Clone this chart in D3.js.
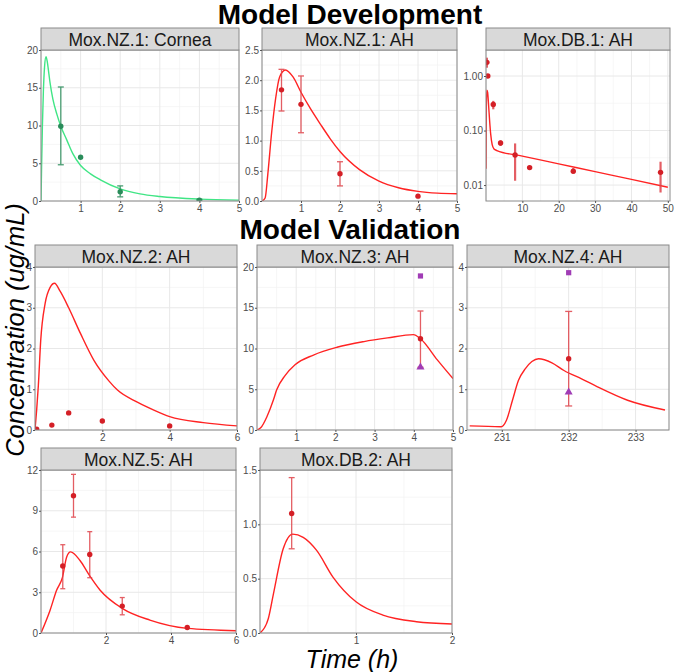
<!DOCTYPE html>
<html>
<head>
<meta charset="utf-8">
<script src="https://cdn.jsdelivr.net/npm/d3@7"></script>
<style>
  body { margin: 0; background: #fff; }
  svg { display: block; }
  text { font-family: "Liberation Sans", Arial, sans-serif; }
</style>
</head>
<body>
<svg id="chart" width="676" height="672"></svg>
<script>
// ---- data ----
const stripTitles = ["Mox.NZ.1: Cornea", "Mox.NZ.1: AH", "Mox.DB.1: AH",
  "Mox.NZ.2: AH", "Mox.NZ.3: AH", "Mox.NZ.4: AH", "Mox.NZ.5: AH", "Mox.DB.2: AH"];

// model curves (time h, conc ug/mL)
const corneaLineT = [0, 0.015, 0.035, 0.06, 0.09, 0.126, 0.16, 0.2, 0.23, 0.3, 0.4, 0.5, 0.65, 0.8, 1.0, 1.25, 1.5, 2.0, 2.5, 3.0, 4.0, 5.0];
const corneaLineC = [0, 4.5, 9.8, 14.5, 17.8, 19.1, 18.4, 16.8, 15.6, 13.5, 11.5, 9.9, 8.1, 6.3, 4.7, 3.6, 2.8, 1.6, 0.95, 0.6, 0.25, 0.12];
const nz1LineT = [0, 0.08, 0.15, 0.25, 0.35, 0.45, 0.6, 0.8, 1.0, 1.25, 1.5, 1.75, 2.0, 2.5, 3.0, 3.5, 4.0, 4.5, 5.0];
const nz1LineC = [0, 0.05, 0.45, 1.15, 1.7, 2.05, 2.17, 2.05, 1.8, 1.52, 1.27, 1.03, 0.82, 0.52, 0.33, 0.22, 0.16, 0.13, 0.12];
const db1LineT = [0, 0.1, 0.25, 0.45, 0.7, 1.0, 1.3, 1.7, 2.2, 3, 10, 20, 30, 40, 50];
const db1LineC = [0.02, 0.3, 0.55, 0.5, 0.3, 0.15, 0.085, 0.055, 0.046, 0.043, 0.034, 0.0245, 0.0176, 0.0127, 0.0091];
const nz2LineT = [0, 0.05, 0.1, 0.17, 0.3, 0.45, 0.58, 0.75, 1.0, 1.35, 1.75, 2.2, 2.45, 2.95, 3.5, 4.0, 5.0, 6.0];
const nz2LineC = [0, 0.5, 1.1, 2.2, 3.1, 3.5, 3.6, 3.4, 3.0, 2.37, 1.71, 1.2, 0.98, 0.72, 0.5, 0.33, 0.18, 0.1];
const nz3LineT = [0, 0.1, 0.25, 0.42, 0.5, 0.72, 0.97, 1.44, 2.04, 2.73, 3.33, 3.99, 4.17, 4.6, 5.0];
const nz3LineC = [0, 0.3, 1.6, 3.7, 4.9, 6.7, 8.0, 9.2, 10.15, 10.85, 11.3, 11.7, 11.2, 8.6, 6.3];
const nz4LineT = [230.52, 230.99, 231.07, 231.16, 231.25, 231.35, 231.45, 231.55, 231.75, 231.93, 232.2, 232.43, 232.88, 233.44];
const nz4LineC = [0.1, 0.08, 0.24, 0.73, 1.22, 1.5, 1.68, 1.75, 1.65, 1.46, 1.25, 1.06, 0.73, 0.49];
const nz5LineT = [0, 0.28, 0.48, 0.66, 0.79, 0.91, 1.2, 1.49, 1.82, 2.51, 3.35, 4.51, 6.0];
const nz5LineC = [0, 1.68, 3.15, 4.1, 5.6, 5.97, 5.34, 4.24, 3.15, 1.8, 0.95, 0.34, 0.17];
const db2LineT = [0, 0.087, 0.14, 0.24, 0.34, 0.45, 0.59, 0.76, 1.0, 1.28, 1.63, 2.0];
const db2LineC = [0, 0.134, 0.36, 0.77, 0.91, 0.88, 0.76, 0.515, 0.287, 0.165, 0.104, 0.083];

// observations (null = no error bar)
const corneaObsT = [0.5, 1, 2, 4];
const corneaObsC = [9.9, 5.8, 1.23, 0.1];
const corneaObsLo = [4.8, null, 0.55, 0.02];
const corneaObsHi = [15.1, null, 2.0, 0.22];
const nz1ObsT = [0.5, 1, 2, 4];
const nz1ObsC = [1.84, 1.6, 0.45, 0.08];
const nz1ObsLo = [1.49, 1.13, 0.25, null];
const nz1ObsHi = [2.18, 2.07, 0.65, null];
const db1ObsT = [0.25, 0.5, 2, 4, 8, 12, 24, 48];
const db1ObsC = [1.78, 1.0, 0.30, 0.059, 0.0355, 0.0209, 0.018, 0.0171];
const db1ObsLo = [1.42, null, 0.245, 0.052, 0.012, null, 0.016, 0.0073];
const db1ObsHi = [2.17, null, 0.35, 0.066, 0.058, null, 0.0205, 0.0268];
const nz2ObsT = [0.05, 0.5, 1, 2, 4];
const nz2ObsC = [0.02, 0.12, 0.42, 0.22, 0.1];
const nz3ObsT = [4.17];
const nz3ObsC = [11.2];
const nz3ObsLo = [7.7];
const nz3ObsHi = [14.6];
const nz3SquareC = [18.9];
const nz3TriangleC = [7.7];
const nz4ObsT = [232];
const nz4ObsC = [1.75];
const nz4ObsLo = [0.59];
const nz4ObsHi = [2.91];
const nz4SquareC = [3.86];
const nz4TriangleC = [0.93];
const nz5ObsT = [0.67, 1, 1.5, 2.5, 4.5];
const nz5ObsC = [4.93, 10.1, 5.78, 1.98, 0.41];
const nz5ObsLo = [3.26, 8.53, 4.07, 1.34, null];
const nz5ObsHi = [6.5, 11.68, 7.46, 2.61, null];
const db2ObsT = [0.33];
const db2ObsC = [1.10];
const db2ObsLo = [0.775];
const db2ObsHi = [1.43];

// ---- colours ----
const RED_LINE = "#ff2323", RED_PT = "#d41f26", RED_ERR = "#e0434a";
const GREEN_LINE = "#40e585", GREEN_PT = "#2a8c5a";
const PURPLE = "#a03cb5";

const svg = d3.select("#chart");

const zipObs = (t, c, lo, hi) => t.map((d, i) => ({ t: d, c: c[i], lo: lo ? lo[i] : null, hi: hi ? hi[i] : null }));
const zipLine = (t, c) => t.map((d, i) => ({ t: d, c: c[i] }));

const fmt1 = d3.format(".1f"), fmt2 = d3.format(".2f"), fmt0 = d3.format("d");

const panels = [
  { title: stripTitles[0], x0: 41, x1: 239, top: 28, y1: 201, xDomain: [0, 5], yDomain: [0, 20],
    xTicks: [1, 2, 3, 4, 5], xStep: 1, yTicks: [0, 5, 10, 15, 20], yStep: 5, yFmt: fmt0,
    line: zipLine(corneaLineT, corneaLineC), lineColor: GREEN_LINE,
    obs: zipObs(corneaObsT, corneaObsC, corneaObsLo, corneaObsHi), ptColor: GREEN_PT, errColor: GREEN_PT, cap: 3 },
  { title: stripTitles[1], x0: 262, x1: 457, top: 28, y1: 201, xDomain: [0, 5], yDomain: [0, 2.5],
    xTicks: [1, 2, 3, 4, 5], xStep: 1, yTicks: [0, 0.5, 1, 1.5, 2, 2.5], yStep: 0.5, yFmt: fmt1,
    line: zipLine(nz1LineT, nz1LineC), lineColor: RED_LINE,
    obs: zipObs(nz1ObsT, nz1ObsC, nz1ObsLo, nz1ObsHi), ptColor: RED_PT, errColor: RED_ERR, cap: 3 },
  { title: stripTitles[2], x0: 486, x1: 670, top: 28, y1: 201, xDomain: [0, 50.6], yDomain: [0.0051, 3.0], log: true,
    xTicks: [10, 20, 30, 40, 50], xStep: 10, yTicks: [0.01, 0.1, 1], yFmt: fmt2,
    line: zipLine(db1LineT, db1LineC), lineColor: RED_LINE,
    obs: zipObs(db1ObsT, db1ObsC, db1ObsLo, db1ObsHi), ptColor: RED_PT, errColor: RED_ERR, cap: 0, errWidth: 2.2 },
  { title: stripTitles[3], x0: 35, x1: 237, top: 245, y1: 430, xDomain: [0, 6], yDomain: [0, 4],
    xTicks: [2, 4, 6], xStep: 2, yTicks: [0, 1, 2, 3, 4], yStep: 1, yFmt: fmt0,
    line: zipLine(nz2LineT, nz2LineC), lineColor: RED_LINE,
    obs: zipObs(nz2ObsT, nz2ObsC), ptColor: RED_PT, errColor: RED_ERR, cap: 3 },
  { title: stripTitles[4], x0: 257, x1: 453, top: 245, y1: 430, xDomain: [0, 5], yDomain: [0, 20],
    xTicks: [1, 2, 3, 4, 5], xStep: 1, yTicks: [0, 5, 10, 15, 20], yStep: 5, yFmt: fmt0,
    line: zipLine(nz3LineT, nz3LineC), lineColor: RED_LINE,
    obs: zipObs(nz3ObsT, nz3ObsC, nz3ObsLo, nz3ObsHi), ptColor: RED_PT, errColor: RED_ERR, cap: 3,
    squares: zipLine(nz3ObsT, nz3SquareC), triangles: zipLine(nz3ObsT, nz3TriangleC) },
  { title: stripTitles[5], x0: 467, x1: 669, top: 245, y1: 430, xDomain: [230.48, 233.5], yDomain: [0, 4],
    xTicks: [231, 232, 233], xStep: 1, yTicks: [0, 1, 2, 3, 4], yStep: 1, yFmt: fmt0,
    line: zipLine(nz4LineT, nz4LineC), lineColor: RED_LINE,
    obs: zipObs(nz4ObsT, nz4ObsC, nz4ObsLo, nz4ObsHi), ptColor: RED_PT, errColor: RED_ERR, cap: 3.5,
    squares: zipLine(nz4ObsT, nz4SquareC), triangles: zipLine(nz4ObsT, nz4TriangleC) },
  { title: stripTitles[6], x0: 41, x1: 236, top: 448, y1: 633, xDomain: [0, 6], yDomain: [0, 12],
    xTicks: [2, 4, 6], xStep: 2, yTicks: [0, 3, 6, 9, 12], yStep: 3, yFmt: fmt0,
    line: zipLine(nz5LineT, nz5LineC), lineColor: RED_LINE,
    obs: zipObs(nz5ObsT, nz5ObsC, nz5ObsLo, nz5ObsHi), ptColor: RED_PT, errColor: RED_ERR, cap: 2.5 },
  { title: stripTitles[7], x0: 260, x1: 452, top: 448, y1: 633, xDomain: [0, 2], yDomain: [0, 1.5],
    xTicks: [1, 2], xStep: 1, yTicks: [0, 0.5, 1, 1.5], yStep: 0.5, yFmt: fmt1,
    line: zipLine(db2LineT, db2LineC), lineColor: RED_LINE,
    obs: zipObs(db2ObsT, db2ObsC, db2ObsLo, db2ObsHi), ptColor: RED_PT, errColor: RED_ERR, cap: 3 }
];

// major + minor grid values for a linear domain
function gridVals(domain, step) {
  const start = Math.floor(domain[0] / step) * step - step;
  const major = d3.range(start, domain[1] + step * 1.01, step);
  const minor = major.map(v => v + step / 2);
  const inside = v => v >= domain[0] - 1e-9 && v <= domain[1] + 1e-9;
  return { major: major.filter(inside), minor: minor.filter(inside) };
}

function drawPanel(p, idx) {
  const STRIP_H = 22;
  const y0 = p.top + STRIP_H;
  const g = svg.append("g");
  const x = d3.scaleLinear().domain(p.xDomain).range([p.x0, p.x1]);
  const y = (p.log ? d3.scaleLog() : d3.scaleLinear()).domain(p.yDomain).range([p.y1, y0]);

  g.append("rect").attr("x", p.x0).attr("y", y0).attr("width", p.x1 - p.x0).attr("height", p.y1 - y0)
    .attr("fill", "#fff");

  // grid
  const gx = gridVals(p.xDomain, p.xStep);
  let gyMajor, gyMinor;
  if (p.log) {
    gyMajor = p.yTicks;
    gyMinor = [-2.5, -1.5, -0.5, 0.5].map(e => Math.pow(10, e)).filter(v => v > p.yDomain[0] && v < p.yDomain[1]);
  } else {
    const gy = gridVals(p.yDomain, p.yStep);
    gyMajor = gy.major; gyMinor = gy.minor;
  }
  g.selectAll(".vminor").data(gx.minor).enter().append("line")
    .attr("x1", d => x(d)).attr("x2", d => x(d)).attr("y1", y0).attr("y2", p.y1)
    .attr("stroke", "#f2f2f2").attr("stroke-width", 0.7);
  g.selectAll(".hminor").data(gyMinor).enter().append("line")
    .attr("x1", p.x0).attr("x2", p.x1).attr("y1", d => y(d)).attr("y2", d => y(d))
    .attr("stroke", "#f2f2f2").attr("stroke-width", 0.7);
  g.selectAll(".vmajor").data(gx.major).enter().append("line")
    .attr("x1", d => x(d)).attr("x2", d => x(d)).attr("y1", y0).attr("y2", p.y1)
    .attr("stroke", "#e8e8e8").attr("stroke-width", 1);
  g.selectAll(".hmajor").data(gyMajor).enter().append("line")
    .attr("x1", p.x0).attr("x2", p.x1).attr("y1", d => y(d)).attr("y2", d => y(d))
    .attr("stroke", "#e8e8e8").attr("stroke-width", 1);

  // clip
  const clipId = "clip" + idx;
  svg.append("clipPath").attr("id", clipId).append("rect")
    .attr("x", p.x0).attr("y", y0).attr("width", p.x1 - p.x0).attr("height", p.y1 - y0);
  const inner = g.append("g").attr("clip-path", "url(#" + clipId + ")");

  const line = d3.line().x(d => x(d.t)).y(d => y(d.c)).curve(d3.curveMonotoneX);
  inner.append("path").datum(p.line).attr("d", line)
    .attr("fill", "none").attr("stroke", p.lineColor).attr("stroke-width", 1.4);

  // error bars
  const withErr = p.obs.filter(d => d.lo !== null);
  const eb = inner.selectAll(".err").data(withErr).enter().append("g")
    .attr("stroke", p.errColor).attr("stroke-width", p.errWidth || 1.3).attr("opacity", 0.85);
  eb.append("line").attr("x1", d => x(d.t)).attr("x2", d => x(d.t))
    .attr("y1", d => y(d.lo)).attr("y2", d => y(d.hi));
  if (p.cap > 0) {
    eb.append("line").attr("x1", d => x(d.t) - p.cap).attr("x2", d => x(d.t) + p.cap)
      .attr("y1", d => y(d.lo)).attr("y2", d => y(d.lo));
    eb.append("line").attr("x1", d => x(d.t) - p.cap).attr("x2", d => x(d.t) + p.cap)
      .attr("y1", d => y(d.hi)).attr("y2", d => y(d.hi));
  }

  inner.selectAll(".pt").data(p.obs).enter().append("circle")
    .attr("cx", d => x(d.t)).attr("cy", d => y(d.c)).attr("r", 2.7).attr("fill", p.ptColor);

  if (p.squares) {
    inner.selectAll(".sq").data(p.squares).enter().append("rect")
      .attr("x", d => x(d.t) - 2.6).attr("y", d => y(d.c) - 2.6).attr("width", 5.2).attr("height", 5.2)
      .attr("fill", PURPLE);
    inner.selectAll(".tri").data(p.triangles).enter().append("path")
      .attr("d", d3.symbol().type(d3.symbolTriangle).size(28))
      .attr("transform", d => "translate(" + x(d.t) + "," + y(d.c) + ")")
      .attr("fill", PURPLE);
  }

  // border
  g.append("rect").attr("x", p.x0).attr("y", y0).attr("width", p.x1 - p.x0).attr("height", p.y1 - y0)
    .attr("fill", "none").attr("stroke", "#8a8a8a").attr("stroke-width", 1);

  // strip
  g.append("rect").attr("x", p.x0).attr("y", p.top).attr("width", p.x1 - p.x0).attr("height", STRIP_H)
    .attr("fill", "#d9d9d9").attr("stroke", "#8a8a8a").attr("stroke-width", 1);
  g.append("text").attr("x", (p.x0 + p.x1) / 2).attr("y", p.top + 17.5)
    .attr("text-anchor", "middle").attr("font-size", "17.5px").attr("fill", "#1a1a1a").text(p.title);

  // axes
  const ax = g.append("g").attr("transform", "translate(0," + p.y1 + ")")
    .call(d3.axisBottom(x).tickValues(p.xTicks).tickFormat(fmt0).tickSize(2).tickPadding(1.5));
  const ay = g.append("g").attr("transform", "translate(" + p.x0 + ",0)")
    .call(d3.axisLeft(y).tickValues(p.yTicks).tickFormat(p.yFmt).tickSize(2).tickPadding(1));
  [ax, ay].forEach(a => {
    a.select(".domain").remove();
    a.selectAll(".tick line").attr("stroke", "#555");
    a.selectAll("text").attr("fill", "#4d4d4d").attr("font-size", "10px")
      .attr("font-family", "'Liberation Sans', Arial, sans-serif");
  });
}

panels.forEach(drawPanel);

// titles and axis labels
svg.append("text").attr("x", 350).attr("y", 24).attr("text-anchor", "middle")
  .attr("font-size", "28px").attr("font-weight", "bold").attr("fill", "#000").text("Model Development");
svg.append("text").attr("x", 350).attr("y", 239).attr("text-anchor", "middle")
  .attr("font-size", "28px").attr("font-weight", "bold").attr("fill", "#000").text("Model Validation");
svg.append("text").attr("transform", "translate(24,330) rotate(-90)").attr("text-anchor", "middle")
  .attr("font-size", "25.5px").attr("font-style", "italic").attr("fill", "#000").text("Concentration (ug/mL)");
svg.append("text").attr("x", 352).attr("y", 668).attr("text-anchor", "middle")
  .attr("font-size", "25px").attr("font-style", "italic").attr("fill", "#000").text("Time (h)");
</script>
</body>
</html>
